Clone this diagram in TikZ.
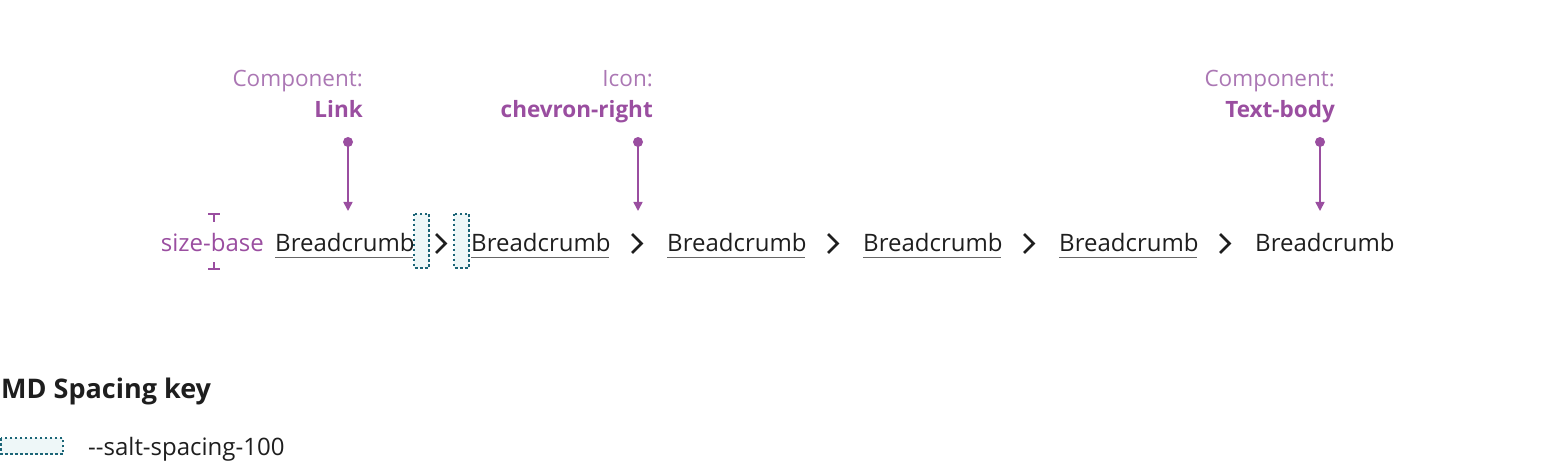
\documentclass[tikz,border=0pt]{standalone}
\usepackage{fontspec}
\setmainfont{Open Sans}
\usetikzlibrary{arrows.meta}
\definecolor{purp}{HTML}{9A4EA0}
\definecolor{purplt}{HTML}{AB77B4}
\definecolor{ink}{HTML}{1E1E1E}
\definecolor{teal}{HTML}{1B6577}
\definecolor{tealbg}{HTML}{EEF7F8}
\tikzset{
  crumb/.style={anchor=base west, inner sep=0pt, text=ink, font=\fontsize{24}{28}\selectfont},
  chev/.style={draw=ink, line width=2.6pt},
  sp/.style={draw=teal, fill=tealbg, dash pattern=on 2.5pt off 2.5pt, line width=1.6pt},
  lbl/.style={anchor=base east, inner sep=0pt, text=purplt, font=\fontsize{22.5}{26}\selectfont},
  lblb/.style={anchor=base east, inner sep=0pt, text=purp, font=\fontsize{22.5}{26}\selectfont\bfseries},
  pointer/.style={draw=purp, line width=1.6pt, -{Triangle[width=9pt,length=9pt]}},
  ul/.style={draw=gray!80!black, line width=1pt}
}
\begin{document}
\begin{tikzpicture}[x=1pt,y=-1pt]
\useasboundingbox (0,0) rectangle (1560,462);
% spacing boxes
\path[sp] (414,214) rectangle (429,268);
\path[sp] (454,214) rectangle (469,268);
% breadcrumbs
\foreach \i/\x in {1/275,2/471,3/667,4/863,5/1059}{
  \node[crumb] (c\i) at (\x,252) {Breadcrumb};
  \draw[ul] (c\i.base west)++(0,5.5) -- ++(138,0);
}
\node[crumb] (c6) at (1255,252) {Breadcrumb};
% chevrons
\foreach \i/\x in {1/436,2/632,3/828,4/1024,5/1220}{
  \coordinate (h\i) at (\x,234);
  \draw[chev] (h\i) -- ++(9.5,9.5) -- ++(-9.5,9.5);
}
% size-base
\node[anchor=base east, inner sep=0pt, text=purp, font=\fontsize{24}{28}\selectfont] (sb) at (264,252) {size-base};
\coordinate (t1) at (214,214);
\coordinate (t2) at (214,269);
\draw[draw=purp, line width=1.6pt] (208,214) -- (220,214) (t1) -- (214,222);
\draw[draw=purp, line width=1.6pt] (208,269) -- (220,269) (t2) -- (214,262);
% labels
\node[lbl] (l1) at (363,87) {Component:};
\node[lblb] (l1b) at (363,118) {Link};
\node[lbl] (l2) at (653,87) {Icon:};
\node[lblb] (l2b) at (653,118) {chevron-right};
\node[lbl] (l3) at (1335,87) {Component:};
\node[lblb] (l3b) at (1335,118) {Text-body};
% pointers
\foreach \i/\x in {1/348,2/638,3/1320}{
  \coordinate (p\i) at (\x,142);
  \coordinate (q\i) at (\x,211);
  \fill[purp] (p\i) circle (5pt);
  \draw[pointer] (p\i) -- (q\i);
}
% key
\node[anchor=base west, inner sep=0pt, text=ink, font=\fontsize{27}{31}\selectfont\bfseries] (key) at (1,398) {MD Spacing key};
\path[sp] (1,438) rectangle (63,454);
\node[anchor=base west, inner sep=0pt, text=ink, font=\fontsize{24}{28}\selectfont] (salt) at (88,455) {-{}-salt-spacing-100};
\end{tikzpicture}
\end{document}
